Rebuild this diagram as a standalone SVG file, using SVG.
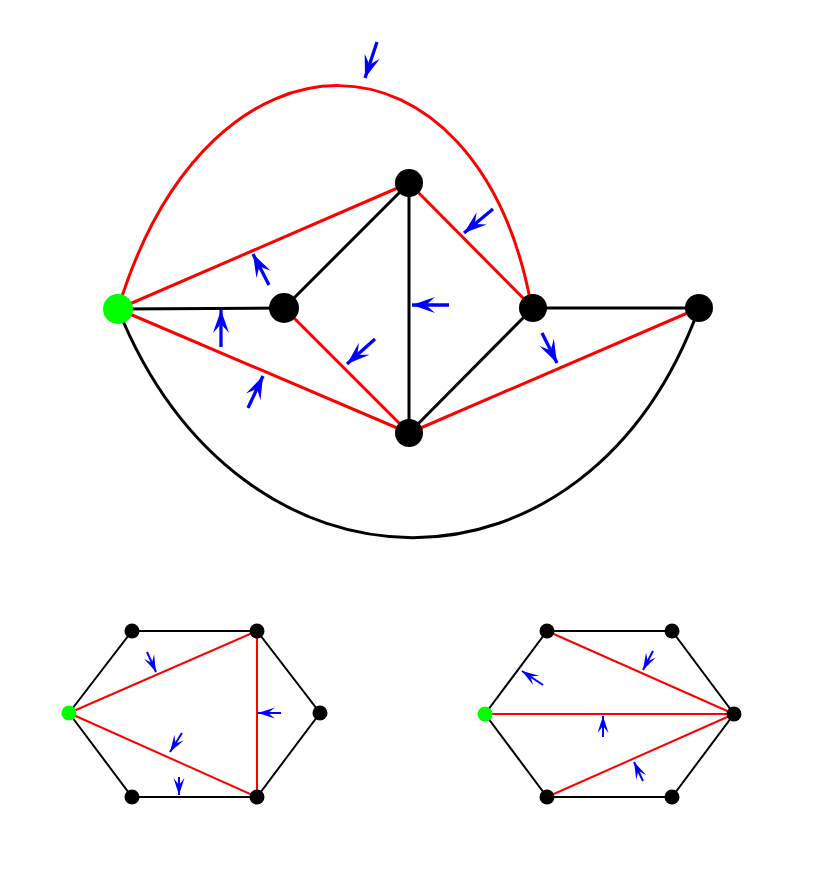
<svg xmlns="http://www.w3.org/2000/svg" width="830" height="872" viewBox="0 0 830 872">
<defs>
<style>
.blk{stroke:#000;fill:none;stroke-linecap:round}
.red{stroke:#f00;fill:none;stroke-linecap:round}
.big{stroke-width:3}
.sm{stroke-width:2}
.arr{stroke:#00f;fill:none}
.arr.big{stroke-width:3.3;marker-end:url(#ahB)}
.arr.sm{marker-end:url(#ahS)}
.n{fill:#000}
.g{fill:#0f0}
</style>
<marker id="ahB" viewBox="-24 -9 24 18" markerWidth="24" markerHeight="18" refX="0" refY="0" orient="auto" markerUnits="userSpaceOnUse">
<path d="M0,0 L-23,-8 L-14,0 L-23,8 Z" fill="#00f"/>
</marker>
<marker id="ahS" viewBox="-18 -6 18 12" markerWidth="18" markerHeight="12" refX="0" refY="0" orient="auto" markerUnits="userSpaceOnUse">
<path d="M0,0 L-17,-5.5 L-10,0 L-17,5.5 Z" fill="#00f"/>
</marker>
</defs>
<rect width="830" height="872" fill="#fff"/>
<g id="connectors">
<path class="red big" d="M118,309 C210,7 477,17 531,304"/>
<path class="blk big" d="M118,309 C241,614 588,614 699,308"/>
<line class="red big" x1="118" y1="309" x2="409" y2="183"/>
<line class="blk big" x1="118" y1="309" x2="284" y2="308"/>
<line class="red big" x1="118" y1="309" x2="409" y2="433"/>
<line class="blk big" x1="284" y1="308" x2="409" y2="183"/>
<line class="red big" x1="284" y1="308" x2="409" y2="433"/>
<line class="blk big" x1="409" y1="183" x2="409" y2="433"/>
<line class="red big" x1="409" y1="183" x2="533" y2="308"/>
<line class="blk big" x1="533" y1="308" x2="409" y2="433"/>
<line class="blk big" x1="533" y1="308" x2="699" y2="308"/>
<line class="red big" x1="409" y1="433" x2="699" y2="308"/>
<line class="arr big" x1="377" y1="42" x2="365" y2="78"/>
<line class="arr big" x1="493" y1="209" x2="464" y2="233"/>
<line class="arr big" x1="449" y1="305" x2="412" y2="305"/>
<line class="arr big" x1="542" y1="333" x2="557" y2="363"/>
<line class="arr big" x1="375" y1="339" x2="347" y2="364"/>
<line class="arr big" x1="269" y1="285" x2="253" y2="254"/>
<line class="arr big" x1="221" y1="347" x2="221" y2="310"/>
<line class="arr big" x1="248" y1="408" x2="263" y2="376"/>
<polyline class="blk sm" points="69,713 132,631 257,631 320,713 257,797 132,797 69,713"/>
<line class="red sm" x1="69" y1="713" x2="257" y2="631"/>
<line class="red sm" x1="69" y1="713" x2="257" y2="797"/>
<line class="red sm" x1="257" y1="631" x2="257" y2="797"/>
<line class="arr sm" x1="147" y1="652" x2="156" y2="672"/>
<line class="arr sm" x1="281" y1="713" x2="258" y2="713"/>
<line class="arr sm" x1="182" y1="733" x2="170" y2="752"/>
<line class="arr sm" x1="179" y1="777" x2="179" y2="795"/>
<polyline class="blk sm" points="485,714 547,631 672,631 734,714 672,797 547,797 485,714"/>
<line class="red sm" x1="547" y1="631" x2="734" y2="714"/>
<line class="red sm" x1="485" y1="714" x2="734" y2="714"/>
<line class="red sm" x1="547" y1="797" x2="734" y2="714"/>
<line class="arr sm" x1="543" y1="685" x2="522" y2="671"/>
<line class="arr sm" x1="653" y1="651" x2="643" y2="670"/>
<line class="arr sm" x1="603" y1="737" x2="603" y2="716"/>
<line class="arr sm" x1="643" y1="781" x2="634" y2="762"/>
</g>
<g id="nG"><circle class="g" cx="118" cy="309" r="15"/></g>
<g id="nA"><circle class="n" cx="409" cy="183" r="14"/></g>
<g id="nB"><circle class="n" cx="284" cy="308" r="15"/></g>
<g id="nC"><circle class="n" cx="533" cy="308" r="14"/></g>
<g id="nD"><circle class="n" cx="699" cy="308" r="14"/></g>
<g id="nE"><circle class="n" cx="409" cy="433" r="14"/></g>
<g id="L0"><circle class="g" cx="69" cy="713" r="7.5"/></g>
<g id="L1"><circle class="n" cx="132" cy="631" r="7.5"/></g>
<g id="L2"><circle class="n" cx="257" cy="631" r="7.5"/></g>
<g id="L3"><circle class="n" cx="320" cy="713" r="7.5"/></g>
<g id="L4"><circle class="n" cx="257" cy="797" r="7.5"/></g>
<g id="L5"><circle class="n" cx="132" cy="797" r="7.5"/></g>
<g id="R0"><circle class="g" cx="485" cy="714" r="7.5"/></g>
<g id="R1"><circle class="n" cx="547" cy="631" r="7.5"/></g>
<g id="R2"><circle class="n" cx="672" cy="631" r="7.5"/></g>
<g id="R3"><circle class="n" cx="734" cy="714" r="7.5"/></g>
<g id="R4"><circle class="n" cx="672" cy="797" r="7.5"/></g>
<g id="R5"><circle class="n" cx="547" cy="797" r="7.5"/></g>
</svg>
